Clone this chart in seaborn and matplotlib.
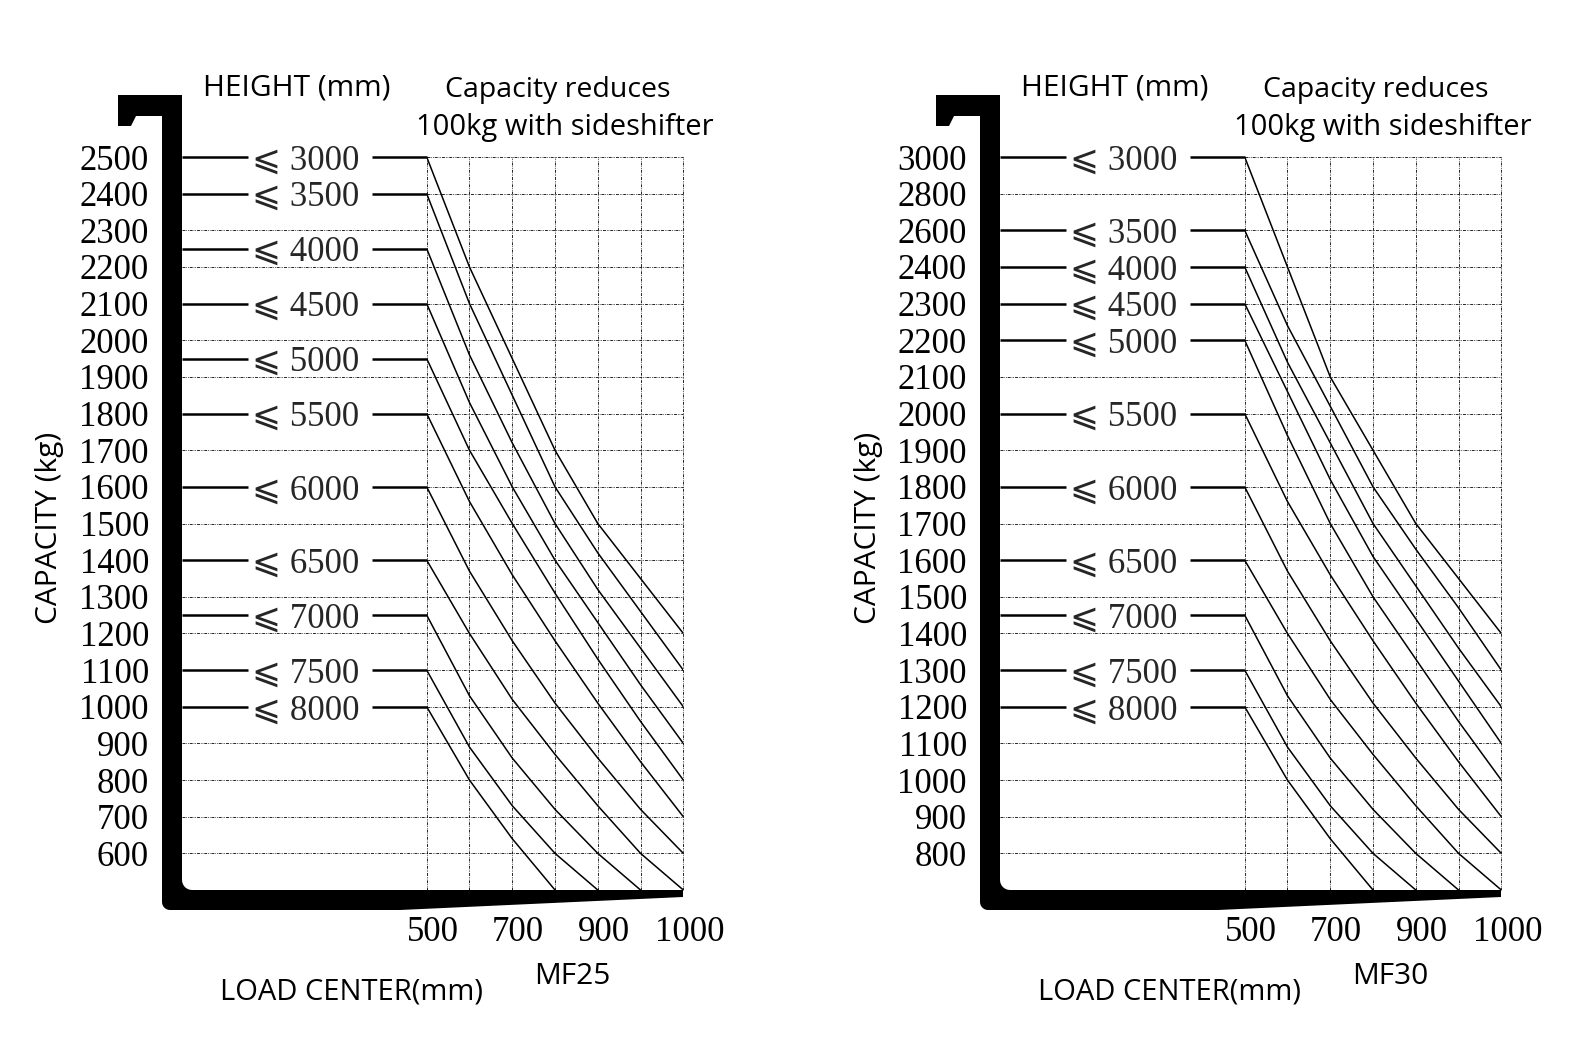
import numpy as np
import pandas as pd
import matplotlib
matplotlib.use("Agg")
import matplotlib.pyplot as plt
import matplotlib.transforms as mtransforms
from matplotlib.patches import Polygon
import seaborn as sns

# ------------------------------------------------------------------ data
load_centers = [500, 600, 700, 800, 900, 950, 1000]          # grid columns (mm)
x_tick_values = [500, 700, 900, 1000]
x_tick_labels = ["500", "700", "900", "1000"]
mast_heights = ["3000", "3500", "4000", "4500", "5000", "5500",
                "6000", "6500", "7000", "7500", "8000"]

# MF25
mf25_y_ticks = [2500, 2400, 2300, 2200, 2100, 2000, 1900, 1800, 1700, 1600,
                1500, 1400, 1300, 1200, 1100, 1000, 900, 800, 700, 600]
mf25_floor = 500
mf25_h3000 = [2500, 2200, 1950, 1700, 1500, 1350, 1200]
mf25_h3500 = [2400, 2100, 1850, 1600, 1420, 1260, 1100]
mf25_h4000 = [2250, 1960, 1720, 1500, 1320, 1160, 1000]
mf25_h4500 = [2100, 1830, 1600, 1400, 1230, 1060, 900]
mf25_h5000 = [1950, 1700, 1500, 1310, 1130, 960, 800]
mf25_h5500 = [1800, 1560, 1360, 1180, 1010, 850, 700]
mf25_h6000 = [1600, 1370, 1180, 1010, 860, 720, 600]
mf25_h6500 = [1400, 1200, 1020, 870, 730, 600, 500]
mf25_h7000 = [1250, 1030, 860, 720, 600, 500]
mf25_h7500 = [1100, 890, 730, 600, 500]
mf25_h8000 = [1000, 800, 640, 500]

# MF30
mf30_y_ticks = [3000, 2800, 2600, 2400, 2300, 2200, 2100, 2000, 1900, 1800,
                1700, 1600, 1500, 1400, 1300, 1200, 1100, 1000, 900, 800]
mf30_floor = 700
mf30_h3000 = [3000, 2400, 2100, 1900, 1700, 1550, 1400]
mf30_h3500 = [2600, 2240, 2020, 1800, 1630, 1470, 1300]
mf30_h4000 = [2400, 2140, 1920, 1700, 1530, 1360, 1200]
mf30_h4500 = [2300, 2060, 1820, 1610, 1440, 1270, 1100]
mf30_h5000 = [2200, 1940, 1700, 1500, 1330, 1160, 1000]
mf30_h5500 = [2000, 1760, 1560, 1380, 1210, 1050, 900]
mf30_h6000 = [1800, 1570, 1380, 1210, 1060, 920, 800]
mf30_h6500 = [1600, 1400, 1220, 1070, 930, 800, 700]
mf30_h7000 = [1450, 1230, 1060, 920, 800, 700]
mf30_h7500 = [1300, 1090, 930, 800, 700]
mf30_h8000 = [1200, 1000, 840, 700]

charts = [
    dict(model="MF25", ticks=mf25_y_ticks, floor=mf25_floor,
         curves=[mf25_h3000, mf25_h3500, mf25_h4000, mf25_h4500, mf25_h5000,
                 mf25_h5500, mf25_h6000, mf25_h6500, mf25_h7000, mf25_h7500,
                 mf25_h8000]),
    dict(model="MF30", ticks=mf30_y_ticks, floor=mf30_floor,
         curves=[mf30_h3000, mf30_h3500, mf30_h4000, mf30_h4500, mf30_h5000,
                 mf30_h5500, mf30_h6000, mf30_h6500, mf30_h7000, mf30_h7500,
                 mf30_h8000]),
]

# ------------------------------------------------------------------ style
sns.set_theme(style="white")
SANS = ["Open Sans", "DejaVu Sans"]
SERIF = ["Liberation Serif", "DejaVu Serif", "DejaVu Sans"]
plt.rcParams["font.family"] = SANS

FW, FH = 1572, 1062
AX_L, AX_R, AX_T, AX_B = 426.7, 683.3, 157.0, 890.0
CHART_SHIFT = 818.0
AW, AH = AX_R - AX_L, AX_B - AX_T


def fx(px):
    return (px - AX_L) / AW


def fy(py):
    return (AX_B - py) / AH


def piecewise_scale(values, positions):
    v = np.asarray(values, dtype=float)
    p = np.asarray(positions, dtype=float)
    order = np.argsort(v)
    v, p = v[order], p[order]

    def fwd(a):
        return np.interp(np.asarray(a, dtype=float), v, p)

    def inv(a):
        return np.interp(np.asarray(a, dtype=float), p, v)
    return fwd, inv


def arc(cx, cy, r, a0, a1, n=8):
    t = np.radians(np.linspace(a0, a1, n))
    return list(zip(cx + r * np.cos(t), cy + r * np.sin(t)))


fork_px = ([(118, 95), (182, 95)] + arc(192, 880, 10, 180, 90)
           + [(683, 890), (683, 897), (400, 910)] + arc(170, 902, 8, 90, 180)
           + [(162, 116), (136, 116), (131, 126), (118, 126)])

GRID_LS = (0, (3.5, 1.2, 0.8, 1.2, 0.8, 1.2))

fig = plt.figure(figsize=(FW / 100, FH / 100), dpi=100)
fig.patch.set_facecolor("white")

for i, ch in enumerate(charts):
    left = AX_L + i * CHART_SHIFT
    ax = fig.add_axes([left / FW, 1 - AX_B / FH, AW / FW, AH / FH])
    ax.set_facecolor("none")

    # scales (x: labelled columns; y: one row per tick label)
    xf, xi = piecewise_scale(x_tick_values, [0, 2, 4, 6])
    ax.set_xscale("function", functions=(xf, xi))
    yvals = list(ch["ticks"]) + [ch["floor"]]
    yf, yi = piecewise_scale(yvals, np.arange(len(yvals))[::-1])
    ax.set_yscale("function", functions=(yf, yi))

    # curves
    rows = []
    for h, caps in zip(mast_heights, ch["curves"]):
        for lc, c in zip(load_centers, caps):
            rows.append({"load_center": lc, "capacity": c, "height": h})
    df = pd.DataFrame(rows)
    sns.lineplot(data=df, x="load_center", y="capacity", units="height",
                 estimator=None, color="black", linewidth=1.1, ax=ax,
                 legend=False, zorder=4)

    ax.set_xlim(load_centers[0], load_centers[-1])
    ax.set_ylim(ch["floor"], ch["ticks"][0])
    ax.set_xlabel("")
    ax.set_ylabel("")
    for s in ax.spines.values():
        s.set_visible(False)

    start_levels = [c[0] for c in ch["curves"]]
    ytr = ax.get_yaxis_transform()
    xtr = ax.get_xaxis_transform()

    # grid
    for yv in ch["ticks"]:
        x0 = 0.0 if yv in start_levels else fx(182)
        ax.plot([x0, 1], [yv, yv], transform=ytr, color="black", lw=0.6,
                ls=GRID_LS, clip_on=False, zorder=1)
    for xv in load_centers:
        ax.plot([xv, xv], [0, 1], transform=xtr, color="black", lw=0.6,
                ls=GRID_LS, clip_on=False, zorder=1)

    # mast height labels
    for h, lv in zip(mast_heights, start_levels):
        ax.plot([fx(182), fx(248)], [lv, lv], transform=ytr, color="black",
                lw=1.8, solid_capstyle="butt", clip_on=False, zorder=3)
        ax.plot([fx(372), 0], [lv, lv], transform=ytr, color="black",
                lw=1.8, solid_capstyle="butt", clip_on=False, zorder=3)
        ax.text(fx(306), lv, "\u2a7d " + h, transform=ytr, ha="center",
                va="center_baseline", fontsize=25, family=SERIF, zorder=3)

    # fork
    ax.add_patch(Polygon([(fx(x), fy(y)) for x, y in fork_px], closed=True,
                         transform=ax.transAxes, clip_on=False,
                         facecolor="black", edgecolor="none", zorder=5))

    # ticks
    ax.set_xticks(x_tick_values)
    ax.set_xticklabels(x_tick_labels, family=SERIF)
    ax.set_yticks(ch["ticks"])
    ax.set_yticklabels([str(t) for t in ch["ticks"]], family=SERIF)
    ax.tick_params(axis="x", length=0, pad=19, labelsize=25, colors="black")
    ax.tick_params(axis="y", length=0, pad=200, labelsize=25, colors="black")
    ax.minorticks_off()
    shift = mtransforms.ScaledTranslation(6 / 100, 0, fig.dpi_scale_trans)
    for lbl in ax.get_xticklabels():
        lbl.set_transform(lbl.get_transform() + shift)

    # texts
    def put(px, py, s, size=21, **kw):
        ax.text(fx(px), fy(py), s, transform=ax.transAxes, ha="center",
                va="center", fontsize=size, color="black", family=SANS, **kw)

    put(297, 88, "HEIGHT (mm)", size=21.5)
    put(558, 90, "Capacity reduces", size=20.5)
    put(565, 127, "100kg with sideshifter", size=21)
    put(50, 528, "CAPACITY (kg)", size=21.5, rotation=90)
    put(351, 992, "LOAD CENTER(mm)", size=21)
    put(572, 977, ch["model"], size=21.5)

fig.savefig("out.png", dpi=100, facecolor="white")
